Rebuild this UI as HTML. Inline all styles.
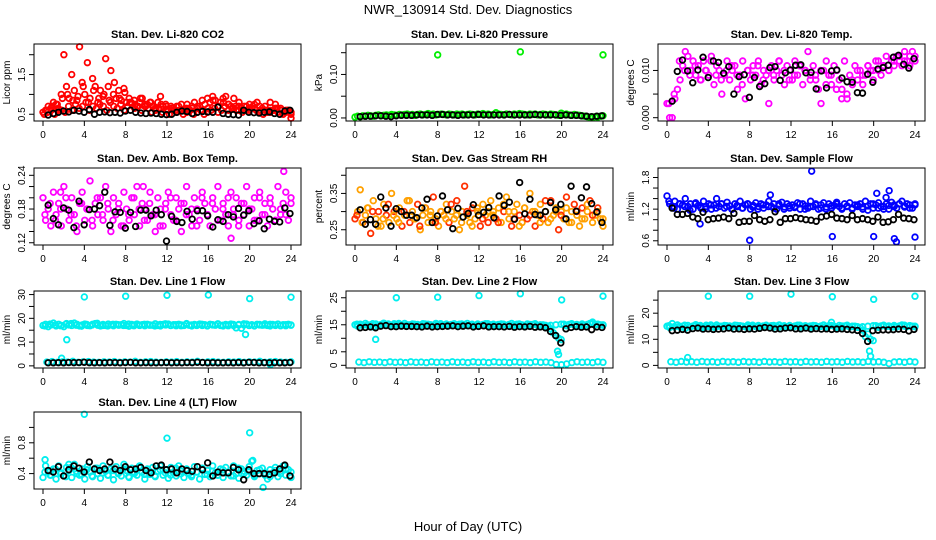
<!DOCTYPE html>
<html><head><meta charset="utf-8">
<style>
body{margin:0;background:#fff;}
svg{display:block;font-family:"Liberation Sans",Arial,sans-serif;}
</style></head>
<body>
<svg id="chart" width="936" height="540" viewBox="0 0 936 540" xmlns="http://www.w3.org/2000/svg">
<rect width="936" height="540" fill="#fff"/>
<text x="468" y="14" text-anchor="middle" font-size="13">NWR_130914 Std. Dev. Diagnostics</text>
<text x="468" y="531" text-anchor="middle" font-size="13">Hour of Day (UTC)</text>
</svg>
<script>
// ---- data (hand-read estimates) ----
const xTicks = [0,4,8,12,16,20,24];

const co2Color = [0.55,0.6,0.7,0.65,0.8,0.75,0.6,1.0,2.0,1.2,0.9,1.5,1.1,0.85,2.2,1.3,1.0,1.8,0.9,1.4,1.2,0.8,1.1,0.95,1.9,1.2,1.6,1.0,0.9,1.1,0.85,1.15,0.8,0.9,0.75,0.85,0.7,0.8,0.9,0.7,0.75,0.8,0.7,0.65,0.8,0.95,0.7,0.75,0.6,0.7,0.65,0.6,0.7,0.75,0.6,0.65,0.6,0.7,0.8,0.65,0.7,0.85,0.75,0.9,0.8,0.95,0.85,0.7,0.8,0.9,0.95,0.75,0.7,0.65,0.6,0.7,0.65,0.6,0.7,0.6,0.65,0.75,0.8,0.7,0.65,0.6,0.55,0.6,0.6,0.65,0.55,0.6,0.5,0.55,0.6,0.4];
const co2Low = [0.5,0.55,0.6,0.5,0.65,0.6,0.55,0.7,0.6,0.75,0.65,0.7,0.8,0.6,0.7,0.65,0.75,0.7,0.6,0.8,0.7,0.65,0.75,0.6,0.7,0.8,0.65,0.7,0.6,0.75,0.65,0.55,0.6,0.65,0.55,0.6,0.5,0.6,0.55,0.6,0.5,0.55,0.6,0.5,0.55,0.6,0.5,0.55,0.6,0.65,0.55,0.6,0.7,0.6,0.65,0.7,0.6,0.55,0.6,0.65,0.7,0.6,0.55,0.5,0.6,0.55,0.6,0.65,0.6,0.55,0.6,0.5];
const co2Mid = [0.6,0.7,0.75,0.9,1.0,0.85,0.95,1.2,0.8,1.1,0.9,1.0,0.85,1.3,0.9,1.05,0.8,0.75,0.9,0.7,0.8,0.65,0.75,0.7,0.65,0.7,0.6,0.75,0.65,0.7,0.6,0.65,0.85,0.7,0.8,0.75,0.9,0.8,0.7,0.75,0.65,0.6,0.7,0.8,0.75,0.65,0.6,0.55];
const co2Black = [0.48,0.52,0.55,0.58,0.56,0.6,0.58,0.55,0.62,0.5,0.55,0.56,0.54,0.55,0.53,0.58,0.6,0.55,0.53,0.52,0.53,0.52,0.5,0.49,0.5,0.55,0.58,0.57,0.52,0.55,0.57,0.56,0.55,0.68,0.52,0.5,0.49,0.48,0.6,0.55,0.54,0.53,0.55,0.56,0.52,0.5,0.58,0.6];

const presColor = [0.002,0.004,0.003,0.005,0.004,0.006,0.005,0.004,0.006,0.007,0.005,0.006,0.007,0.006,0.008,0.007,0.006,0.008,0.007,0.008,0.009,0.007,0.008,0.006,0.008,0.009,0.007,0.008,0.01,0.008,0.009,0.007,0.008,0.009,0.008,0.007,0.009,0.008,0.007,0.009,0.008,0.009,0.007,0.008,0.009,0.008,0.007,0.009,0.008,0.01,0.008,0.009,0.007,0.008,0.012,0.009,0.008,0.007,0.009,0.008,0.007,0.009,0.008,0.01,0.009,0.008,0.007,0.009,0.008,0.009,0.007,0.008,0.009,0.008,0.007,0.009,0.008,0.007,0.006,0.011,0.008,0.009,0.007,0.006,0.008,0.007,0.006,0.005,0.004,0.003,0.002,0.001,0.003,0.002,0.004,0.005];
const presExtraX = [8,16,24];
const presExtraY = [0.145,0.152,0.145];
const presBlack = [0.003,0.004,0.004,0.005,0.005,0.004,0.003,0.005,0.006,0.006,0.006,0.007,0.007,0.007,0.006,0.008,0.008,0.007,0.007,0.006,0.007,0.007,0.007,0.008,0.007,0.007,0.007,0.007,0.007,0.008,0.007,0.007,0.007,0.007,0.008,0.007,0.007,0.007,0.007,0.006,0.007,0.006,0.006,0.005,0.004,0.003,0.004,0.005];

const ltColor = [0.003,0.0,0.0,0.004,0.006,0.008,0.011,0.014,0.013,0.01,0.012,0.009,0.011,0.008,0.012,0.01,0.009,0.013,0.007,0.011,0.01,0.005,0.009,0.012,0.008,0.01,0.011,0.006,0.009,0.012,0.004,0.01,0.008,0.011,0.009,0.012,0.007,0.01,0.009,0.003,0.011,0.008,0.01,0.012,0.009,0.007,0.011,0.01,0.008,0.012,0.009,0.011,0.007,0.01,0.014,0.009,0.011,0.008,0.006,0.003,0.01,0.012,0.009,0.007,0.011,0.01,0.008,0.006,0.012,0.004,0.009,0.007,0.011,0.008,0.01,0.007,0.009,0.011,0.01,0.008,0.012,0.01,0.009,0.011,0.013,0.01,0.012,0.011,0.013,0.012,0.011,0.014,0.012,0.013,0.014,0.012];
const ltColor2 = [0.003,0.005,0.012,0.01,0.009,0.011,0.008,0.01,0.012,0.009,0.008,0.01,0.011,0.009,0.007,0.01,0.009,0.011,0.008,0.01,0.009,0.012,0.01,0.008,0.009,0.011,0.01,0.008,0.009,0.01,0.007,0.009,0.006,0.004,0.005,0.008,0.01,0.009,0.011,0.01,0.012,0.011,0.01,0.012,0.013,0.012,0.011,0.013];
const ltBlack = [0.0035,0.0098,0.0122,0.0099,0.0074,0.0101,0.0128,0.0085,0.012,0.0117,0.0094,0.0108,0.005,0.0087,0.0091,0.0043,0.0085,0.0066,0.0072,0.0106,0.0108,0.0079,0.0095,0.0101,0.0111,0.0112,0.0095,0.0096,0.0061,0.0099,0.0063,0.0099,0.0101,0.0084,0.0076,0.0075,0.0053,0.0052,0.0092,0.0075,0.0103,0.0106,0.0111,0.0128,0.0132,0.0113,0.0105,0.0125];

const abColor = [0.2,0.16,0.18,0.15,0.21,0.17,0.19,0.15,0.22,0.18,0.16,0.2,0.17,0.14,0.19,0.21,0.16,0.18,0.23,0.15,0.19,0.17,0.2,0.16,0.22,0.18,0.14,0.2,0.17,0.19,0.15,0.21,0.18,0.16,0.2,0.17,0.22,0.15,0.19,0.18,0.16,0.21,0.17,0.14,0.2,0.18,0.15,0.19,0.21,0.17,0.16,0.2,0.18,0.14,0.19,0.22,0.17,0.15,0.2,0.18,0.16,0.21,0.19,0.17,0.15,0.2,0.18,0.22,0.16,0.19,0.17,0.15,0.21,0.18,0.2,0.16,0.19,0.17,0.22,0.15,0.18,0.2,0.16,0.21,0.17,0.19,0.15,0.2,0.18,0.16,0.22,0.17,0.19,0.21,0.16,0.2];
const abColor2 = [0.17,0.19,0.16,0.18,0.2,0.17,0.15,0.19,0.18,0.16,0.2,0.17,0.19,0.16,0.18,0.15,0.17,0.2,0.18,0.16,0.19,0.17,0.15,0.18,0.2,0.16,0.19,0.17,0.18,0.15,0.2,0.17,0.19,0.16,0.18,0.2,0.17,0.15,0.19,0.18,0.16,0.2,0.17,0.19,0.16,0.18,0.17,0.19];
const abExtraX = [18.2,23.3,9.7,1.7];
const abExtraY = [0.128,0.247,0.22,0.21];
const abBlack = [0.187,0.163,0.152,0.182,0.178,0.147,0.194,0.152,0.179,0.18,0.186,0.21,0.151,0.175,0.174,0.146,0.174,0.149,0.178,0.178,0.168,0.178,0.17,0.123,0.167,0.158,0.156,0.176,0.162,0.177,0.177,0.168,0.148,0.161,0.158,0.17,0.166,0.181,0.169,0.177,0.154,0.159,0.145,0.162,0.158,0.157,0.182,0.172];

const rhColor = [0.28,0.3,0.36,0.27,0.29,0.31,0.24,0.33,0.28,0.3,0.26,0.32,0.29,0.27,0.35,0.3,0.28,0.31,0.26,0.29,0.33,0.27,0.3,0.28,0.32,0.25,0.29,0.31,0.27,0.3,0.34,0.28,0.26,0.3,0.29,0.32,0.27,0.3,0.28,0.33,0.25,0.3,0.37,0.29,0.27,0.31,0.28,0.3,0.26,0.32,0.29,0.27,0.33,0.3,0.28,0.31,0.27,0.3,0.34,0.28,0.26,0.3,0.32,0.29,0.27,0.31,0.28,0.35,0.3,0.26,0.29,0.32,0.28,0.3,0.27,0.33,0.29,0.31,0.25,0.3,0.28,0.34,0.27,0.3,0.32,0.29,0.26,0.31,0.28,0.3,0.33,0.27,0.29,0.31,0.28,0.26];
const rhColor2 = [0.29,0.27,0.31,0.3,0.26,0.28,0.32,0.29,0.27,0.3,0.33,0.28,0.26,0.31,0.29,0.27,0.3,0.28,0.32,0.29,0.27,0.3,0.26,0.31,0.28,0.3,0.29,0.27,0.32,0.3,0.28,0.26,0.31,0.29,0.3,0.27,0.33,0.28,0.3,0.29,0.31,0.27,0.3,0.28,0.32,0.29,0.3,0.28];
const rhBlack = [0.305,0.265,0.278,0.265,0.34,0.31,0.26,0.308,0.3,0.29,0.29,0.283,0.31,0.334,0.27,0.288,0.343,0.305,0.253,0.309,0.285,0.295,0.319,0.29,0.298,0.311,0.283,0.343,0.317,0.326,0.279,0.38,0.294,0.334,0.292,0.29,0.3,0.325,0.305,0.32,0.28,0.37,0.301,0.338,0.368,0.322,0.299,0.27];

const sfColor = [1.45,1.3,1.25,1.35,1.2,1.3,1.28,1.4,1.25,1.3,1.2,1.32,1.27,1.22,1.35,1.25,1.3,1.2,1.28,1.4,1.25,1.3,1.22,1.33,1.26,1.2,1.3,1.25,1.35,1.22,1.28,1.3,1.2,1.27,1.32,1.25,1.3,1.22,1.28,1.35,1.25,1.3,1.2,1.27,1.33,1.24,1.3,1.22,1.28,1.25,1.32,1.2,1.3,1.26,1.22,1.35,1.25,1.3,1.2,1.28,1.32,1.24,1.3,1.22,1.27,1.33,1.25,1.2,1.3,1.26,1.32,1.22,1.28,1.25,1.3,1.2,1.35,1.26,1.3,1.22,1.28,1.32,1.25,1.2,1.3,1.27,1.33,1.25,1.22,1.3,1.35,1.26,1.3,1.28,1.22,1.3];
const sfColor2 = [1.35,1.22,1.3,1.25,1.18,1.3,1.24,1.2,1.28,1.22,1.3,1.25,1.2,1.27,1.22,1.3,1.24,1.2,1.28,1.25,1.22,1.3,1.2,1.26,1.23,1.3,1.2,1.25,1.28,1.22,1.2,1.26,1.3,1.22,1.25,1.2,1.28,1.24,1.18,1.3,1.22,1.25,1.2,1.28,1.3,1.24,1.22,1.28];
const sfExtraX = [14,20.3,21.5,10,8,16,20,22,22.2,24,3.2,21.2];
const sfExtraY = [1.92,1.5,1.55,1.47,0.61,0.68,0.68,0.64,0.58,0.67,0.92,1.42];
const sfBlack = [1.22,1.1,1.1,1.12,1.05,1.02,1.14,1.0,1.02,1.03,1.05,1.02,1.12,0.95,0.97,0.97,1.08,1.0,0.97,1.0,1.15,0.95,1.02,1.02,1.04,1.02,1.0,0.99,0.97,1.05,1.07,1.1,1.03,1.02,1.0,1.08,1.0,1.02,1.0,0.97,1.05,0.95,0.96,1.0,1.1,1.03,1.02,1.0];

const l1High = [17,17.5,16.5,17.2,18,16.8,17.5,17,16.5,17.8,17.2,17,18,17.5,16.8,17.2,17.6,17,16.9,17.5,17.8,17.1,16.8,17.4,17,17.6,17.2,16.9,17.5,17.1,17.3,17.8,17,16.7,17.4,17.2,17.6,17,17.3,16.9,17.5,17.2,17.1,17.7,17,16.8,17.4,17.2,17.6,17,17.3,16.9,17.5,17.2,17,17.8,17.1,16.8,17.4,17.2,17.6,17,17.3,16.9,17.5,17.2,17.1,17.7,17,16.8,17.4,17.2,17.6,17,16,17.4,15.8,17.2,17.6,17,17.3,16.9,17.5,17.2,17.1,17.7,17,16.8,17.4,17.2,17.6,17,17.3,16.9,17.5,17.2];
const l1High2 = [16.8,17.6,17.2,16.9,17.5,17.8,17.1,16.7,17.4,17.2,17.9,17,16.8,17.5,17.3,17,17.6,16.9,17.2,17.5,17.1,16.8,17.4,17.7,17,17.3,16.9,17.6,17.2,17,17.5,16.8,17.3,17.6,17.1,16.9,17.4,17.2,17.7,17,16.8,17.4,17.2,17.5,17,16.9,17.3,17.1];
const l1Low = [1.6,1.8,1.5,1.7,1.6,1.9,1.5,1.7,1.8,1.6,1.5,1.7,1.6,1.8,1.5,1.7,1.6,1.9,1.5,1.7,1.8,1.6,1.5,1.7,1.6,1.8,1.5,1.7,1.6,1.9,1.5,1.7,1.8,1.6,1.5,1.7,1.6,1.8,1.5,1.7,1.6,1.9,1.5,1.7,1.8,1.6,1.5,1.7];
const l1ExtraX = [4,8,12,16,20,24,2.3,19.6,1.8,22];
const l1ExtraY = [29,29.3,29.7,29.8,28.3,28.9,11,13.2,3.2,0.5];
const l1Black = [1.3,1.3,1.35,1.3,1.4,1.35,1.4,1.5,1.35,1.3,1.35,1.3,1.4,1.35,1.3,1.4,1.45,1.3,1.3,1.35,1.3,1.3,1.35,1.4,1.3,1.35,1.3,1.4,1.35,1.5,1.4,1.3,1.35,1.3,1.3,1.35,1.3,1.4,1.3,1.45,1.4,1.3,1.35,1.3,1.35,1.3,1.3,1.4];

const l2High = [15,14.5,15.2,14.8,15.5,14.6,15,14.2,15.3,14.7,15.1,15.6,14.8,15,14.5,15.4,14.9,15.2,14.6,15.5,15,14.8,15.3,14.7,15.1,14.9,15.4,14.6,15.2,15,14.8,15.5,14.7,15.1,14.9,15.3,14.6,15,15.4,14.8,15.2,14.7,15.1,15.5,14.9,15,14.6,15.3,14.8,15.1,15.4,14.7,15,15.2,14.9,14.6,15.3,15,14.8,15.1,15.5,14.7,15.2,14.9,15,14.6,15.3,14.8,15.1,15.4,14.7,15,15,14.8,14.5,13.5,12,11,10,9.5,15.2,14.6,15.1,15.4,14.9,15,14.7,15.3,14.8,15.1,15.5,16,14.9,15.2,15,14.8];
const l2High2 = [15.2,14.8,15,15.4,14.7,15.1,15.3,14.9,15.5,14.8,15,15.2,14.6,15.3,15,14.9,15.4,14.8,15.1,15,15.3,14.7,15.2,15,14.9,15.4,14.8,15.1,15.2,14.9,15,15.3,14.7,15.1,15.2,14.9,14.5,14.8,15,15.2,14.9,15.3,15.1,14.8,15,15.4,15.2,15];
const l2Low = [1.2,1,1.3,1.1,1.2,1,1.3,1.1,1.2,1,1.3,1.1,1.2,1,1.3,1.1,1.2,1,1.3,1.1,1.2,1,1.3,1.1,1.2,1,1.3,1.1,1.2,1,1.3,1.1,1.2,1,1.3,1.1,1.2,1,0.3,0.2,0.5,1,1.3,1.1,1.2,1,1.3,1.1];
const l2ExtraX = [4,8,12,16,20,24,2,19.6,19.7];
const l2ExtraY = [25,25.2,25.8,26.5,24.2,25.6,9.6,5.2,4];
const l2Black = [13.9,14,14.2,13.9,14.5,14.7,14.3,14.3,14.5,14.4,14.4,14.3,14.2,14.5,14.2,14.3,14.4,14.5,14.6,14.3,14.5,14.6,14.2,14.4,14.6,14.2,14.3,14.3,14.2,14.4,14.1,14.3,14.2,14.4,14.1,14.2,13.9,12.5,11,8.3,13.5,14,14.3,14.1,14.2,13.2,14.2,14];

const l3High = [15,14.5,16,14.8,15.5,14.6,15,14.2,15.3,14.7,15.1,15.6,14.8,15,14.5,15.4,14.9,15.2,14.6,15.5,15,14.8,15.3,14.7,15.1,14.9,15.4,14.6,15.2,15,14.8,15.5,14.7,15.1,14.9,15.3,14.6,15,15.4,14.8,15.2,14.7,15.1,15.5,14.9,15,14.6,15.3,14.8,15.1,15.4,14.7,15,15.2,14.9,14.6,15.3,15,14.8,15.1,15.5,14.7,15.2,16.5,15,14.6,15.3,14.8,15.1,15.4,14.7,15,15,14.8,14.5,13.5,11,12,10,9.5,15.2,14.6,15.1,15.4,14.9,15,14.7,15.3,14.8,15.1,15.5,15,14.9,15.2,15,14.8];
const l3High2 = [15.2,14.8,15,15.4,14.7,15.1,15.3,14.9,15.5,14.8,15,15.2,14.6,15.3,15,14.9,15.4,14.8,15.1,15,15.3,14.7,15.2,15,14.9,15.4,14.8,15.1,15.2,14.9,15,15.3,14.7,15.1,15.2,14.9,14.6,14.8,15,15.2,14.9,15.3,15.1,14.8,15,15.4,15.2,15];
const l3Low = [1.4,1.2,1.5,1.3,1.4,1.2,1.5,1.3,1.4,1.2,1.5,1.3,1.4,1.2,1.5,1.3,1.4,1.2,1.5,1.3,1.4,1.2,1.5,1.3,1.4,1.2,1.5,1.3,1.4,1.2,1.5,1.3,1.4,1.2,1.5,1.3,1.4,1.2,1.5,1.3,1.4,1.2,0.7,1.3,1.4,1.2,1.5,1.3];
const l3ExtraX = [4,8,12,16,20,24,2,19.6,19.7];
const l3ExtraY = [26.5,26.5,27.3,26.3,25.3,26.5,3,5.5,3.5];
const l3Black = [13.3,13.5,13.8,13.5,14.1,14.3,13.9,14,13.8,13.9,14,14.3,13.9,14,13.8,14,13.9,14.2,14.5,14.3,13.9,14,14.3,14.4,14,14,14.3,13.9,14.1,13.9,14,13.8,13.9,14,13.8,13.6,13.4,12.2,9.2,13.3,13.5,13.6,13.6,13.7,13.9,13.8,13.2,13.8];

const l4Color = [0.35,0.5,0.42,0.38,0.46,0.33,0.5,0.41,0.37,0.48,0.44,0.35,0.52,0.4,0.38,0.46,0.33,0.49,0.42,0.36,0.47,0.4,0.34,0.5,0.43,0.38,0.46,0.32,0.49,0.41,0.37,0.52,0.44,0.35,0.47,0.4,0.38,0.5,0.42,0.33,0.46,0.39,0.48,0.36,0.43,0.5,0.38,0.45,0.34,0.48,0.41,0.37,0.5,0.43,0.35,0.46,0.4,0.38,0.49,0.42,0.33,0.47,0.39,0.44,0.36,0.5,0.41,0.38,0.46,0.35,0.48,0.42,0.37,0.5,0.4,0.34,0.46,0.43,0.38,0.49,0.56,0.36,0.44,0.4,0.47,0.38,0.33,0.45,0.41,0.48,0.36,0.43,0.5,0.38,0.45,0.35];
const l4Color2 = [0.42,0.38,0.46,0.4,0.36,0.48,0.43,0.39,0.45,0.37,0.47,0.41,0.38,0.44,0.4,0.46,0.36,0.42,0.48,0.39,0.43,0.37,0.45,0.41,0.38,0.47,0.4,0.44,0.36,0.42,0.46,0.39,0.43,0.38,0.45,0.41,0.37,0.47,0.4,0.43,0.38,0.45,0.41,0.36,0.44,0.4,0.46,0.42];
const l4ExtraX = [4,12,20,21.3,0.2,2.5,20.3];
const l4ExtraY = [1.17,0.86,0.93,0.22,0.58,0.52,0.57];
const l4Black = [0.44,0.42,0.49,0.37,0.45,0.5,0.47,0.42,0.55,0.46,0.44,0.46,0.55,0.46,0.44,0.49,0.45,0.46,0.48,0.44,0.41,0.5,0.51,0.45,0.46,0.41,0.46,0.44,0.43,0.49,0.45,0.54,0.37,0.42,0.41,0.41,0.48,0.45,0.32,0.45,0.4,0.4,0.4,0.39,0.41,0.46,0.51,0.37];

const colX = [0,312,624];
const rowTop = [44,168,291,412];
const boxH = 77;

const panels = [
 {name:'co2',title:'Stan. Dev. Li-820 CO2',ylab:'Licor ppm',col:0,row:0,ymin:0.33,ymax:2.27,ticks:[0.5,1,1.5,2],labels:['0.5','','1.5',''],color:'#ff0000',series:[co2Color,co2Low,co2Mid],black:co2Black},
 {name:'pressure',title:'Stan. Dev. Li-820 Pressure',ylab:'kPa',col:1,row:0,ymin:-0.007,ymax:0.170,ticks:[0,0.05,0.1,0.15],labels:['0.00','','0.10',''],color:'#00ee00',series:[presColor],ex:presExtraX,ey:presExtraY,black:presBlack},
 {name:'li-temp',title:'Stan. Dev. Li-820 Temp.',ylab:'degrees C',col:2,row:0,ymin:-0.0007,ymax:0.0156,ticks:[0,0.005,0.01],labels:['0.000','','0.010'],color:'#ff00ff',series:[ltColor,ltColor2],black:ltBlack},
 {name:'amb-box-temp',title:'Stan. Dev. Amb. Box Temp.',ylab:'degrees C',col:0,row:1,ymin:0.116,ymax:0.253,ticks:[0.12,0.14,0.16,0.18,0.2,0.22,0.24],labels:['0.12','','','0.18','','','0.24'],color:'#ff00ff',series:[abColor,abColor2],ex:abExtraX,ey:abExtraY,black:abBlack},
 {name:'gas-rh',title:'Stan. Dev. Gas Stream RH',ylab:'percent',col:1,row:1,ymin:0.208,ymax:0.42,ticks:[0.25,0.3,0.35,0.4],labels:['0.25','','0.35',''],color:'#ffa000',series:[rhColor,rhColor2],black:rhBlack},
 {name:'sample-flow',title:'Stan. Dev. Sample Flow',ylab:'ml/min',col:2,row:1,ymin:0.52,ymax:1.98,ticks:[0.6,0.8,1,1.2,1.4,1.6,1.8],labels:['0.6','','','1.2','','','1.8'],color:'#0000ff',series:[sfColor,sfColor2],ex:sfExtraX,ey:sfExtraY,black:sfBlack},
 {name:'line1-flow',title:'Stan. Dev. Line 1 Flow',ylab:'ml/min',col:0,row:2,ymin:-0.9,ymax:31.5,ticks:[0,5,10,15,20,25,30],labels:['0','','10','','20','','30'],color:'#00eeee',series:[l1High,l1High2,l1Low],ex:l1ExtraX,ey:l1ExtraY,black:l1Black},
 {name:'line2-flow',title:'Stan. Dev. Line 2 Flow',ylab:'ml/min',col:1,row:2,ymin:-1,ymax:27.5,ticks:[0,5,10,15,20,25],labels:['0','5','','15','','25'],color:'#00eeee',series:[l2High,l2High2,l2Low],ex:l2ExtraX,ey:l2ExtraY,black:l2Black},
 {name:'line3-flow',title:'Stan. Dev. Line 3 Flow',ylab:'ml/min',col:2,row:2,ymin:-1,ymax:28.5,ticks:[0,5,10,15,20,25],labels:['0','','10','','20',''],color:'#00eeee',series:[l3High,l3High2,l3Low],ex:l3ExtraX,ey:l3ExtraY,black:l3Black},
 {name:'line4-flow',title:'Stan. Dev. Line 4 (LT) Flow',ylab:'ml/min',col:0,row:3,ymin:0.2,ymax:1.2,ticks:[0.4,0.6,0.8,1.0],labels:['0.4','','0.8',''],color:'#00eeee',series:[l4Color,l4Color2],ex:l4ExtraX,ey:l4ExtraY,black:l4Black}
];

const NS='http://www.w3.org/2000/svg';
const svg=document.getElementById('chart');
function mk(tag,attrs,parent){const e=document.createElementNS(NS,tag);for(const k in attrs)e.setAttribute(k,attrs[k]);(parent||svg).appendChild(e);return e;}

panels.forEach(p=>{
  const L=colX[p.col]+34, R=colX[p.col]+301, T=rowTop[p.row], B=T+boxH;
  const x0=colX[p.col]+43, x1=colX[p.col]+291;
  const sx=h=>x0+(h/24)*(x1-x0);
  const sy=v=>B-(v-p.ymin)/(p.ymax-p.ymin)*(B-T);
  const g=mk('g',{});
  
  
  const t=mk('text',{x:(L+R)/2,y:T-6,'text-anchor':'middle','font-size':'11','font-weight':'bold'},g);
  t.textContent=p.title;
  
  
  const yl=mk('text',{x:0,y:0,'text-anchor':'middle','font-size':'10',transform:`translate(${L-24},${(T+B)/2}) rotate(-90)`},g);
  yl.textContent=p.ylab;
  
  
  const pg=mk('g',{fill:'none','stroke-width':'1.8'},g);
  
  
  p.series.forEach((arr,si)=>{
    const n=arr.length;
    const off=si*0.37;
    arr.forEach((v,i)=>{
      const h=(i+off)*24/(n-1+off);
      const c=mk('circle',{cx:sx(Math.min(h,24)),cy:sy(v),r:2.8,stroke:(p.name==='gas-rh'&&i%3===0)?'#ff3000':p.color},pg);
      
      
    });
  });
  if(p.ex){p.ex.forEach((h,i)=>{
    const c=mk('circle',{cx:sx(h),cy:sy(p.ey[i]),r:2.8,stroke:p.color},pg);
    
    
  });}
  const nb=p.black.length;
  p.black.forEach((v,i)=>{
    const h=0.5+i*23.4/(nb-1);
    const c=mk('circle',{cx:sx(h),cy:sy(v),r:2.8,stroke:'#000'},pg);
    
    
  });
  const box=mk('rect',{x:L,y:T,width:R-L,height:B-T,fill:'none',stroke:'#000','stroke-width':'1'},g);
  
  
  xTicks.forEach(h=>{
    mk('line',{x1:sx(h),x2:sx(h),y1:B,y2:B+5,stroke:'#000'},g);
    const tl=mk('text',{x:sx(h),y:B+17,'text-anchor':'middle','font-size':'10'},g);
    tl.textContent=h;
    
    
  });
  p.ticks.forEach((v,i)=>{
    mk('line',{x1:L-5,x2:L,y1:sy(v),y2:sy(v),stroke:'#000'},g);
    if(p.labels[i]){
      const tl=mk('text',{x:0,y:0,'text-anchor':'middle','font-size':'10',transform:`translate(${L-9},${sy(v)}) rotate(-90)`},g);
      tl.textContent=p.labels[i];
      
      
    }
  });
});
</script>
</body></html>
